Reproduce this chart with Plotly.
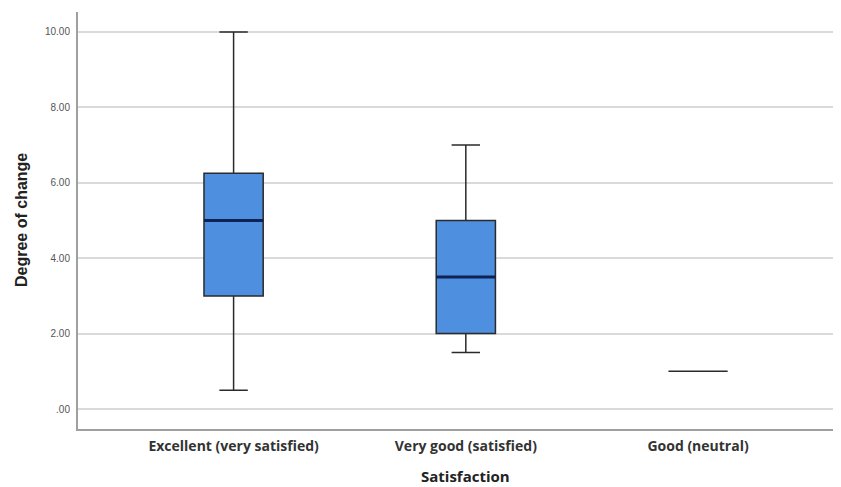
import plotly.graph_objects as go

categories = ["Excellent (very satisfied)", "Very good (satisfied)", "Good (neutral)"]
lower = [0.5, 1.5, 1.0]
q1 = [3.0, 2.0, 1.0]
median = [5.0, 3.5, 1.0]
q3 = [6.25, 5.0, 1.0]
upper = [10.0, 7.0, 1.0]
ytick_vals = [0, 2, 4, 6, 8, 10]
ytick_text = [".00", "2.00", "4.00", "6.00", "8.00", "10.00"]

xpos = list(range(len(categories)))
box_width = 0.255

fig = go.Figure()
fig.add_trace(go.Box(
    x=xpos, q1=q1, median=median, q3=q3, lowerfence=lower, upperfence=upper,
    width=box_width, whiskerwidth=0.48,
    fillcolor="#4f8fe0", line=dict(color="#2b2b2b", width=1.5),
    boxpoints=False, showlegend=False, hoverinfo="skip",
))
# median lines in dark navy, thicker
for i, m in enumerate(median):
    if q1[i] == q3[i]:
        continue
    fig.add_trace(go.Scatter(
        x=[xpos[i] - box_width / 2, xpos[i] + box_width / 2], y=[m, m],
        mode="lines", line=dict(color="#0c2354", width=3),
        showlegend=False, hoverinfo="skip",
    ))

fig.update_layout(
    width=841, height=487,
    margin=dict(l=70, r=0, t=4, b=66, autoexpand=False),
    paper_bgcolor="white", plot_bgcolor="white",
    font=dict(family="Liberation Sans, Arial, sans-serif", color="#333"),
    annotations=[
        dict(text="<b>Degree of change</b>", xref="paper", yref="paper", x=0, y=0.5,
             xshift=-67, textangle=-90, showarrow=False,
             font=dict(size=16, color="#222")),
        dict(text="<b>Satisfaction</b>", xref="x", yref="paper", x=1, y=0,
             yshift=-59, showarrow=False,
             font=dict(family="Open Sans, Liberation Sans, sans-serif", size=15, color="#222")),
    ],
)
fig.update_xaxes(
    range=[-0.67, 2.65], tickvals=xpos, ticktext=[f"<b>{c}</b>" for c in categories],
    tickfont=dict(family="Open Sans, Liberation Sans, sans-serif", size=14, color="#333"),
    showgrid=False, zeroline=False, showline=True, linecolor="#a0a0a0", linewidth=2,
    ticks="", ticklen=0, automargin=False, ticklabelstandoff=3,
)
fig.update_yaxes(
    range=[-0.53, 10.53], tickvals=ytick_vals, ticktext=ytick_text,
    tickfont=dict(size=10, color="#555"),
    showgrid=True, gridcolor="#dadada", gridwidth=2, zeroline=False,
    showline=True, linecolor="#a0a0a0", linewidth=2, ticks="", automargin=False,
    ticklabelstandoff=4,
)

fig.write_html("out.html")
